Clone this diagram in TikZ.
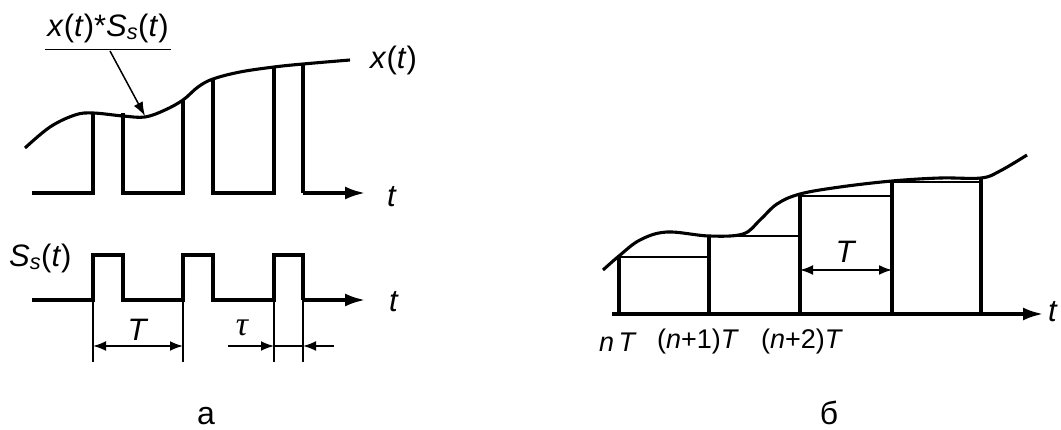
\documentclass[tikz,border=0pt]{standalone}
\usepackage{fontspec}
\setmainfont{Liberation Sans}
\newfontfamily\serifit{Liberation Serif}
\usetikzlibrary{arrows.meta}
\begin{document}
\begin{tikzpicture}[x=1pt,y=-1pt,
  thick line/.style={line width=3.1pt},
  thin line/.style={line width=2.4pt},
  axis/.style={line width=3.1pt,-{Latex[length=20pt,width=13pt]}},
  dim/.style={line width=1.8pt,{Latex[length=13pt,width=10pt]}-{Latex[length=13pt,width=10pt]}},
  dimr/.style={line width=1.8pt,-{Latex[length=13pt,width=10pt]}},
  lbl/.style={inner sep=0pt,font=\fontsize{31}{34}\selectfont},
  smalllbl/.style={inner sep=0pt,font=\fontsize{27}{30}\selectfont},
  captext/.style={inner sep=0pt,font=\fontsize{32}{34}\selectfont}]
\useasboundingbox (0,0) rectangle (1061,430);

% ---------- panel a, top ----------
\draw[thick line,line join=round] plot[smooth,tension=0.6] coordinates
  {(25,148) (50,127) (75,115) (93,113) (123,116) (145,117) (165,110) (183,100) (198,87) (213,79) (240,72) (274,67) (303,64) (350,60)};
\coordinate (a0) at (32,193);
\coordinate (aend) at (365,193);
\draw[thick line] (a0) -- (93,193) -- (93,113);
\draw[thick line] (123,113) -- (123,193) -- (183,193) -- (183,100);
\draw[thick line] (213,79) -- (213,193) -- (274,193) -- (274,67);
\draw[thick line] (303,64) -- (303,193);
\draw[axis] (303,193) -- (aend);
\node[lbl,anchor=west] (ta) at (387,197) {\textit{t}};
\node[lbl,anchor=west] (xt) at (370,60) {\textit{x}(\textit{t})};
\node[lbl] (prod) at (108,28) {\textit{x}(\textit{t})*\textit{S}\textsubscript{\textit{s}}(\textit{t})};
\draw[line width=1.5pt] ([xshift=-2pt]prod.south west) ++(0,7) coordinate (ul1) -- ([xshift=2pt]ul1 -| prod.south east);
\coordinate (hit) at (145,116);
\draw[line width=1.5pt,-{Latex[length=14pt,width=10pt]}] (110,51) -- (hit);

% ---------- panel a, bottom ----------
\draw[thick line,line join=miter] (32,300) -- (93,300) -- (93,255) -- (123,255) -- (123,300)
  -- (183,300) -- (183,255) -- (213,255) -- (213,300) -- (274,300) -- (274,255) -- (303,255) -- (303,300);
\draw[axis] (303,300) -- (365,300);
\node[lbl,anchor=west] (ts) at (9,258) {\textit{S}\textsubscript{\textit{s}}(\textit{t})};
\node[lbl,anchor=west] (tb) at (389,302) {\textit{t}};
\foreach \xx in {93,183,274,303} \draw[line width=1.8pt] (\xx,300) -- (\xx,362);
\draw[dim] (93,346) -- (183,346);
\node[lbl] (T1) at (138,330) {\textit{T}};
\draw[dimr] (228,346) -- (274,346);
\draw[dimr] (334,346) -- (303,346);
\draw[line width=1.8pt] (274,346) -- (303,346);
\node[inner sep=0pt,font=\fontsize{34}{36}\selectfont] (tau) at (242,328) {\serifit\itshape τ};
\node[captext] (capa) at (206,416) {а};

% ---------- panel b ----------
\draw[thick line,line join=round] plot[smooth,tension=0.6] coordinates
  {(603,270) (619,256) (640,240) (667,232) (709,236) (743,234) (760,220) (777,204) (800,194) (840,187) (892,181) (940,178) (981,178) (1000,171) (1027,155)};
\draw[axis] (612,314) -- (1043,314);
\node[lbl,anchor=west] (tc) at (1048,312) {\textit{t}};
\draw[thick line] (619,314) -- (619,256);
\draw[thin line] (619,257) -- (709,257);
\draw[thick line] (709,314) -- (709,236);
\draw[thin line] (709,236) -- (800,236);
\draw[thick line] (800,314) -- (800,194);
\draw[thin line] (800,196) -- (892,196);
\draw[thick line] (892,314) -- (892,181);
\draw[thin line] (892,182) -- (981,182);
\draw[thick line] (981,314) -- (981,178);
\draw[dim] (800,270) -- (892,270);
\node[lbl] (T2) at (846,252) {\textit{T}};
\node[smalllbl] (n0) at (618,342) {\textit{n\,T}};
\node[smalllbl] (n1) at (698,342) {(\textit{n}+1)\textit{T}};
\node[smalllbl] (n2) at (802,342) {(\textit{n}+2)\textit{T}};
\node[captext] (capb) at (829,413) {б};
\end{tikzpicture}
\end{document}
